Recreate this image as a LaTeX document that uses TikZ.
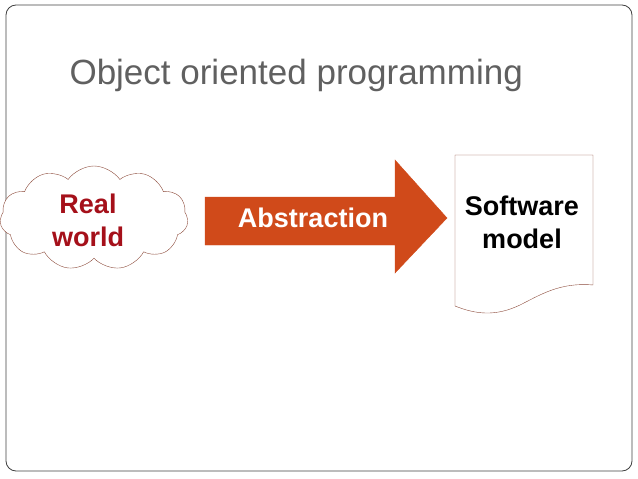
\documentclass[tikz,border=0pt]{standalone}
\usepackage{fontspec}
\setmainfont{Liberation Sans}
\usetikzlibrary{shapes.symbols,positioning}
\definecolor{framegray}{HTML}{404040}
\definecolor{cloudline}{HTML}{8C4A3A}
\definecolor{realred}{HTML}{A5101A}
\definecolor{arroworange}{HTML}{D04A1A}
\definecolor{titlegray}{HTML}{606060}
\tikzset{
  bigtext/.style={font=\fontsize{27}{33}\selectfont\bfseries, align=center},
}
\begin{document}
\begin{tikzpicture}[x=1pt,y=1pt,yscale=-1]
\useasboundingbox (0,0) rectangle (638,479);
% slide frame
\draw[framegray, rounded corners=10pt, line width=0.8pt] (6,5) rectangle (632,471);
% title
\node[titlegray, anchor=west, font=\fontsize{35}{38}\selectfont] (title) at (66,75) {Object oriented programming};
% cloud
\node[cloud, cloud puffs=11, cloud puff arc=110, aspect=1.7, draw=cloudline, fill=white,
      minimum width=188pt, minimum height=104pt, inner sep=0pt] (cloud) at (94,218) {};
\node[bigtext, realred] (real) at (88,220) {Real\\world};
% arrow
\filldraw[arroworange] (205,197) -- (395,197) -- (395,160) -- (447,218) -- (395,273)
   -- (395,245) -- (205,245) -- cycle;
\node[bigtext, white] (abstr) at (313,218) {Abstraction};
% document
\draw[cloudline, fill=white] (455,155) -- (593,155) -- (593,285)
   .. controls (560,282) and (540,295) .. (520,305)
   .. controls (495,317) and (475,314) .. (455,306) -- cycle;
\node[bigtext, black] (model) at (522,222) {Software\\model};
\end{tikzpicture}
\end{document}
